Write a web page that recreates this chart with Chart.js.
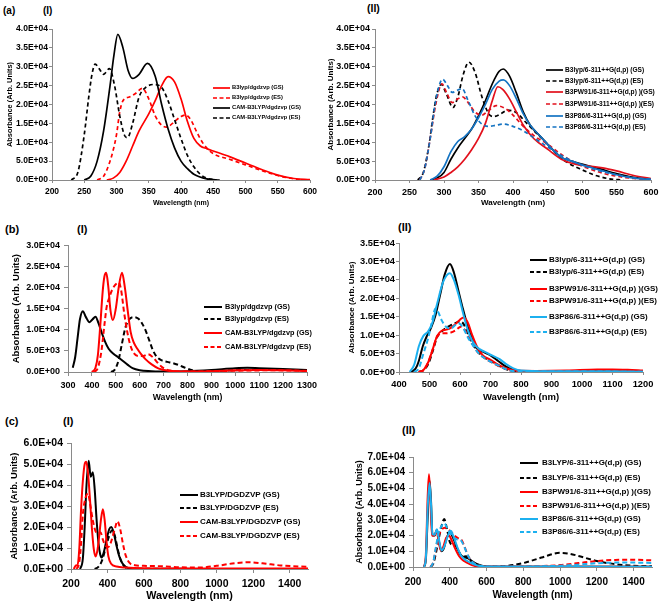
<!DOCTYPE html>
<html>
<head>
<meta charset="utf-8">
<script src="https://cdn.jsdelivr.net/npm/chart.js@4.4.0/dist/chart.umd.min.js"></script>
<style>
  body { margin: 0; width: 660px; height: 605px; position: relative; overflow: hidden; background: #fff;
         font-family: "Liberation Sans", Arial, sans-serif; font-weight: bold; color: #000; }
  canvas { position: absolute; }
  .t { position: absolute; white-space: nowrap; line-height: 1; transform: translateY(-50%); }
  svg { position: absolute; }
</style>
</head>
<body>
<script>
// ---- data: [wavelength (nm), absorbance] ----

// (a)(I)
const aI_b3lyp_gs = [[285,0],[295,500],[305,2000],[315,5000],[325,9000],[335,13000],[350,17500],[360,21000],[370,25000],[380,27400],[390,26000],[400,21500],[410,15500],[420,11000],[430,9000],[440,8300],[450,7700],[475,6200],[500,4500],[525,2800],[550,1300],[575,400],[600,100]];
const aI_b3lyp_es = [[270,0],[280,1000],[288,4000],[295,8000],[300,12000],[305,18000],[310,21000],[320,22000],[330,23000],[340,24300],[350,21500],[360,17000],[370,14500],[378,14000],[390,15500],[400,16800],[407,17200],[415,16000],[425,12500],[435,9500],[450,7000],[475,5500],[500,4000],[525,2500],[550,1200],[575,300],[590,0]];
const aI_cam_gs = [[250,0],[260,1000],[270,5000],[280,13000],[290,25000],[296,33000],[302,38600],[310,35000],[318,29000],[325,26900],[335,28000],[348,30900],[360,27500],[370,20000],[380,13500],[390,8500],[400,5000],[410,3000],[420,1500],[440,300],[460,0]];
const aI_cam_es = [[230,0],[240,2000],[250,12000],[257,22000],[262,28000],[267,30700],[273,29500],[280,28000],[289,29500],[297,25000],[305,17000],[312,12000],[317,11200],[325,15000],[335,22000],[345,24500],[358,25300],[370,24500],[380,21000],[390,16000],[400,11000],[410,6500],[420,3500],[430,1500],[440,500],[455,0]];
const aI_labels = ["B3lyp/dgdzvp (GS)", "B3lyp/dgdzvp (ES)", "CAM-B3LYP/dgdzvp (GS)", "CAM-B3LYP/dgdzvp (ES)"];

// (a)(II)
const aII_b3lyp_gs = [[280,0],[290,500],[300,2000],[310,5500],[320,8500],[330,11000],[340,13500],[350,17000],[360,21000],[370,25500],[380,28800],[386,29400],[395,27500],[405,23000],[415,18000],[425,14500],[440,11500],[455,8500],[470,6000],[485,5000],[500,4200],[525,3000],[550,1700],[575,700],[600,200]];
const aII_b3lyp_es = [[262,0],[270,2000],[278,9000],[285,18000],[290,23000],[296,25300],[303,23000],[313,19200],[320,22000],[328,28000],[336,31200],[345,28500],[355,22000],[365,17500],[372,16800],[382,17500],[392,18500],[405,17800],[420,15000],[435,12200],[450,9500],[465,6500],[480,4500],[500,2700],[520,1200],[540,300],[560,0]];
const aII_b3pw91_gs = [[285,0],[300,800],[310,2000],[320,3500],[330,5500],[340,8000],[350,11000],[360,15000],[370,21000],[378,24700],[385,24000],[395,21500],[405,18000],[415,14500],[430,11000],[450,8200],[470,5500],[490,4200],[510,3700],[530,3200],[550,2400],[575,1200],[600,400]];
const aII_b3pw91_es = [[265,0],[272,3000],[280,11000],[288,20000],[297,25500],[304,23000],[312,20500],[320,21500],[327,22000],[335,20500],[345,18000],[355,17200],[365,18500],[376,19700],[390,18800],[400,17200],[415,14200],[430,11800],[450,9500],[470,6800],[490,4500],[510,3000],[530,1800],[550,1000],[575,400],[600,100]];
const aII_b3p86_gs = [[280,0],[290,1000],[300,3500],[310,7500],[320,10200],[330,11500],[340,13500],[350,16500],[360,20000],[370,24000],[380,26200],[386,26500],[395,25000],[405,21500],[415,17500],[425,14500],[440,11500],[455,8500],[470,6000],[485,5000],[500,4000],[525,2700],[550,1400],[575,500],[600,100]];
const aII_b3p86_es = [[265,0],[272,3000],[280,11000],[288,21000],[298,26700],[305,25000],[312,23200],[320,23800],[326,24200],[335,21000],[345,17000],[355,14800],[365,14200],[375,14500],[386,14800],[400,14200],[415,13000],[430,11200],[450,8800],[470,6500],[490,4700],[510,3300],[530,2200],[550,1400],[575,600],[600,200]];
const aII_labels = ["B3lyp/6-311++G(d,p) (GS)", "B3lyp/6-311++G(d,p) (ES)", "B3PW91/6-311++G(d,p) )(GS)", "B3PW91/6-311++G(d,p) )(ES)", "B3P86/6-311++G(d,p) (GS)", "B3P86/6-311++G(d,p) (ES)"];

// (b)(I)
const bI_b3lyp_gs = [[320,1000],[330,3500],[340,8000],[350,12500],[362,14400],[375,13000],[390,11800],[403,12500],[415,13100],[428,11500],[440,9500],[455,7200],[470,5500],[490,4300],[510,3500],[530,2600],[550,1700],[570,900],[600,400],[650,200],[700,100],[800,200],[900,500],[1000,900],[1050,1000],[1100,900],[1200,700],[1300,500]];
const bI_b3lyp_es = [[480,0],[495,500],[510,2500],[525,6500],[540,10500],[555,12400],[575,13000],[595,12600],[610,11500],[625,9800],[640,7500],[655,5200],[670,3700],[690,2800],[715,2400],[740,2100],[765,1600],[790,1000],[820,400],[860,200],[950,300],[1050,500],[1150,500],[1300,400]];
const bI_cam_gs = [[400,0],[415,1000],[425,4000],[435,11000],[445,19000],[452,22500],[460,23500],[468,20500],[478,14500],[488,12300],[500,15000],[512,20000],[526,23500],[538,20000],[550,14500],[562,9500],[575,7000],[590,5500],[605,4300],[625,3000],[650,1800],[680,800],[720,300],[800,100],[900,200],[1000,400],[1100,500],[1200,400],[1300,200]];
const bI_cam_es = [[410,0],[425,1000],[440,5000],[452,11000],[462,15500],[472,17500],[485,19500],[500,20800],[512,21200],[522,19500],[535,14000],[548,9500],[560,6500],[575,4500],[595,3800],[615,3800],[635,4200],[655,3500],[675,2200],[695,1100],[720,400],[800,100],[1000,300],[1150,400],[1300,300]];
const bI_labels = ["B3lyp/dgdzvp (GS)", "B3lyp/dgdzvp (ES)", "CAM-B3LYP/dgdzvp (GS)", "CAM-B3LYP/dgdzvp (ES)"];

// (b)(II)
const bII_b3lyp_gs = [[440,0],[455,1000],[465,3000],[478,7000],[490,9500],[505,12000],[520,15500],[535,21000],[550,26500],[567,29300],[580,27000],[595,22000],[610,17000],[625,12500],[640,9000],[655,6500],[675,5500],[700,4500],[725,3000],[750,1500],[775,600],[800,300],[900,200],[1000,200],[1200,100]];
const bII_b3lyp_es = [[465,0],[480,500],[495,2000],[510,5500],[525,9500],[540,11000],[555,12000],[570,12700],[585,13300],[600,13700],[612,13000],[625,10500],[640,8000],[655,6000],[675,4200],[700,3000],[725,1800],[750,800],[780,200],[850,100],[1200,100]];
const bII_b3pw91_gs = [[465,0],[480,500],[495,2500],[510,6000],[525,9800],[540,11200],[555,11500],[570,12000],[585,13000],[600,14200],[612,14800],[625,13500],[640,10000],[655,7000],[675,4500],[700,3300],[725,2000],[750,1000],[780,400],[850,300],[950,400],[1050,700],[1100,700],[1150,600],[1200,400]];
const bII_b3pw91_es = [[465,0],[480,500],[495,2500],[510,6000],[525,9500],[540,10500],[555,10500],[570,10700],[585,11300],[603,12300],[615,11500],[630,9200],[645,7000],[660,5200],[680,3800],[700,2800],[725,1700],[750,800],[780,200],[1200,100]];
const bII_b3p86_gs = [[435,0],[450,2000],[465,7000],[480,9800],[495,11000],[510,13500],[525,18500],[545,24500],[567,26800],[580,25000],[595,21000],[610,16000],[625,11500],[640,8500],[655,6800],[680,5500],[705,4500],[730,3500],[750,2200],[775,1000],[800,400],[900,200],[1200,100]];
const bII_b3p86_es = [[450,0],[465,1000],[480,5000],[495,9000],[505,12500],[520,17200],[530,16000],[540,14000],[555,12200],[570,11800],[585,12800],[595,13200],[610,12000],[625,9500],[640,7500],[660,5200],[680,3800],[700,2800],[725,1800],[750,800],[780,200],[1200,100]];
const bII_labels = ["B3lyp/6-311++G(d,p) (GS)", "B3lyp/6-311++G(d,p) (ES)", "B3PW91/6-311++G(d,p) )(GS)", "B3PW91/6-311++G(d,p) )(ES)", "B3P86/6-311++G(d,p) (GS)", "B3P86/6-311++G(d,p) (ES)"];

// (c)(I)
const cI_b3lyp_gs = [[250,0],[265,5000],[275,20000],[285,40000],[297,51700],[308,44000],[320,46200],[330,38000],[340,24000],[350,13000],[360,7000],[368,5500],[380,8000],[395,14000],[410,19000],[421,20000],[435,17000],[450,11000],[465,6000],[480,3000],[500,1000],[530,200],[600,0],[1500,0]];
const cI_b3lyp_es = [[330,0],[350,1000],[370,4000],[390,10000],[410,16000],[425,18500],[440,16000],[455,10000],[470,5000],[490,1500],[520,200],[1500,0]];
const cI_cam_gs = [[215,0],[228,1800],[235,1500],[245,9000],[255,28000],[265,42000],[275,50000],[284,51200],[295,44000],[305,32000],[315,19000],[325,9500],[335,6000],[345,9000],[355,16000],[365,24000],[375,28500],[385,23000],[395,13000],[405,6000],[420,2500],[450,1200],[500,700],[600,300],[800,200],[1500,200]];
const cI_cam_es = [[230,0],[245,3000],[255,12000],[265,26000],[280,34000],[293,36000],[305,31000],[320,23000],[335,18000],[350,17000],[362,17500],[375,14000],[390,11000],[405,10500],[420,13000],[440,19000],[455,22800],[470,19000],[485,12000],[500,6500],[520,3000],[550,1800],[600,1500],[700,1300],[800,800],[900,700],[1000,1500],[1100,2800],[1175,3200],[1250,2700],[1350,1700],[1500,1000]];
const cI_labels = ["B3LYP/DGDZVP (GS)", "B3LYP/DGDZVP (ES)", "CAM-B3LYP/DGDZVP (GS)", "CAM-B3LYP/DGDZVP (ES)"];

// (c)(II)
const cII_b3lyp_gs = [[260,0],[270,5000],[280,32000],[290,55000],[298,42000],[306,20000],[318,20000],[330,23500],[342,16000],[355,10000],[368,12000],[382,18000],[400,22000],[420,18000],[440,12000],[460,7500],[480,6200],[500,5500],[525,3500],[550,1800],[580,600],[620,200],[1500,100]];
const cII_b3lyp_es = [[295,0],[310,2000],[325,9000],[340,18000],[355,26000],[370,30500],[385,24000],[400,16000],[415,14000],[430,13500],[450,9500],[470,6500],[490,6800],[510,4500],[530,2200],[560,800],[600,300],[700,600],[800,2500],[900,6000],[1000,9000],[1050,8500],[1100,7000],[1200,3800],[1300,1800],[1400,800],[1500,500]];
const cII_b3pw91_gs = [[260,0],[270,8000],[280,45000],[287,59000],[295,42000],[303,20000],[315,20000],[328,23000],[340,16000],[352,10500],[365,13000],[380,18500],[395,20000],[410,17000],[430,11500],[450,7000],[470,4500],[490,3000],[520,1200],[560,300],[1500,100]];
const cII_b3pw91_es = [[295,0],[310,3000],[325,12000],[340,20000],[355,23500],[372,25000],[390,24000],[410,22000],[430,19500],[450,18000],[465,17000],[480,13000],[500,7000],[520,3500],[550,1200],[600,400],[700,200],[800,300],[900,600],[1000,1200],[1100,2500],[1200,3800],[1300,4500],[1400,4600],[1500,4200]];
const cII_b3p86_gs = [[260,0],[270,6000],[280,38000],[290,53500],[298,40000],[306,21000],[318,20500],[330,24000],[342,17000],[355,10500],[370,13000],[390,20000],[405,23000],[420,19500],[440,13000],[460,7500],[480,5000],[500,3500],[525,2000],[550,1000],[590,300],[1500,100]];
const cII_b3p86_es = [[295,0],[310,3000],[325,13000],[340,22000],[355,26000],[370,28000],[385,25000],[400,22000],[420,19000],[440,17500],[460,17000],[480,12500],[500,7000],[520,3500],[550,1200],[600,300],[700,100],[800,200],[900,400],[1000,800],[1100,1500],[1200,2400],[1300,2800],[1400,2800],[1500,2600]];
const cII_labels = ["B3LYP/6-311++G(d,p) (GS)", "B3LYP/6-311++G(d,p) (ES)", "B3PW91/6-311++G(d,p) )(GS)", "B3PW91/6-311++G(d,p) )(ES)", "B3P86/6-311++G(d,p) (GS)", "B3P86/6-311++G(d,p) (ES)"];

// ---- styling ----
const FONT = '"Liberation Sans", Arial, sans-serif';
const AXIS = "#8a8a8a";
const BLACK = "#000000", RED = "#ff0000", RED2 = "#e2101c", BLUE = "#1473c2", SKY = "#1cb0ef";

// 0 -> 0.0E+00, 25000 -> 2.5E+04
const sci = (v) => {
  const [m, e] = v.toExponential(1).split("e");
  const n = Math.abs(+e);
  return m + "E" + (+e < 0 ? "-" : "+") + (n < 10 ? "0" : "") + n;
};

const addText = (str, x, y, size) => {
  const d = document.createElement("div");
  d.className = "t";
  d.textContent = str;
  d.style.left = x + "px";
  d.style.top = y + "px";
  d.style.fontSize = size + "px";
  document.body.appendChild(d);
};

const addLegend = (series, labels, lx1, lx2, tx, rows, size, lw) => {
  series.forEach((s, i) => {
    const w = lx2 - lx1;
    const svg = document.createElementNS("http://www.w3.org/2000/svg", "svg");
    svg.setAttribute("width", w);
    svg.setAttribute("height", 6);
    svg.style.left = lx1 + "px";
    svg.style.top = rows[i] - 3 + "px";
    const ln = document.createElementNS("http://www.w3.org/2000/svg", "line");
    ln.setAttribute("x1", 0); ln.setAttribute("x2", w);
    ln.setAttribute("y1", 3); ln.setAttribute("y2", 3);
    ln.setAttribute("stroke", s.color);
    ln.setAttribute("stroke-width", lw);
    if (s.dash) ln.setAttribute("stroke-dasharray", "4,2.5");
    svg.appendChild(ln);
    document.body.appendChild(svg);
    addText(labels[i], tx, rows[i], size);
  });
};

// g: plot rectangle (L,T,R,B) in page px, title positions, fonts, axis range
const panel = (g, series) => {
  const padT = 8, padR = 16;
  const left = Math.round(g.ytx - g.ytf * 0.6);
  const top = g.T - padT;
  const bottom = Math.round(g.xty + g.xtf * 0.6);
  const w = g.R + padR - left, h = bottom - top;
  const yW = g.L - left, xH = bottom - g.B;

  const cv = document.createElement("canvas");
  cv.width = w; cv.height = h;
  cv.style.left = left + "px"; cv.style.top = top + "px";
  document.body.appendChild(cv);

  const tickFont = { family: FONT, weight: "bold", size: g.tf };
  new Chart(cv, {
    type: "line",
    data: {
      datasets: series.map((s, i) => ({
        data: s.pts.map((p) => ({ x: p[0], y: p[1] })),
        borderColor: s.color,
        borderWidth: g.lw,
        borderDash: s.dash ? g.dash : [],
        pointRadius: 0,
        fill: false,
        cubicInterpolationMode: "monotone",
        order: series.length - i,
      })),
    },
    options: {
      responsive: false,
      animation: false,
      events: [],
      layout: { padding: { top: padT, right: padR, left: 0, bottom: 0 } },
      plugins: { legend: { display: false }, tooltip: { enabled: false } },
      scales: {
        x: {
          type: "linear", min: g.xmin, max: g.xmax,
          afterFit: (s) => { s.height = xH; },
          ticks: { stepSize: g.xstep, autoSkip: false, maxRotation: 0, includeBounds: false, padding: g.xtp, color: "#000", font: tickFont,
                   callback: (v) => String(v) },
          grid: { drawOnChartArea: false, tickLength: g.tl, color: AXIS },
          border: { color: AXIS },
          title: { display: true, text: "Wavelength (nm)", color: "#000", padding: 0, font: { family: FONT, weight: "bold", size: g.xtf } },
        },
        y: {
          min: 0, max: g.ymax,
          afterFit: (s) => { s.width = yW; },
          ticks: { stepSize: g.ystep, autoSkip: false, padding: g.ytp, color: "#000", font: tickFont, callback: sci },
          grid: { drawOnChartArea: false, tickLength: g.tl, color: AXIS },
          border: { color: AXIS },
          title: { display: true, text: "Absorbance (Arb. Units)", color: "#000", padding: 0, font: { family: FONT, weight: "bold", size: g.ytf } },
        },
      },
    },
  });
};

// ---- (a) ----
const aI = [
  { pts: aI_b3lyp_gs, color: RED },
  { pts: aI_b3lyp_es, color: RED, dash: true },
  { pts: aI_cam_gs, color: BLACK },
  { pts: aI_cam_es, color: BLACK, dash: true },
];
panel({ L: 52, T: 29, R: 310, B: 180, ytx: 10, xty: 203, tf: 8.5, ytf: 7.4, xtf: 7, tl: 3, ytp: 1, xtp: 4, lw: 1.7, dash: [4, 3],
        xmin: 200, xmax: 600, xstep: 50, ymax: 40000, ystep: 5000 }, aI);
addLegend(aI, aI_labels, 213, 230, 232, [88, 98, 108, 118], 5.8, 1.7);

const aII = [
  { pts: aII_b3lyp_gs, color: BLACK },
  { pts: aII_b3lyp_es, color: BLACK, dash: true },
  { pts: aII_b3pw91_gs, color: RED2 },
  { pts: aII_b3pw91_es, color: RED2, dash: true },
  { pts: aII_b3p86_gs, color: BLUE },
  { pts: aII_b3p86_es, color: BLUE, dash: true },
];
panel({ L: 375, T: 29, R: 651, B: 180, ytx: 331, xty: 203, tf: 9, ytf: 8, xtf: 8, tl: 3, ytp: 2, xtp: 4, lw: 1.7, dash: [4, 3],
        xmin: 200, xmax: 600, xstep: 50, ymax: 40000, ystep: 5000 }, aII);
addLegend(aII, aII_labels, 546, 563, 565, [70, 81, 92, 104, 116, 127], 6.6, 1.7);

// ---- (b) ----
const bI = [
  { pts: bI_b3lyp_gs, color: BLACK },
  { pts: bI_b3lyp_es, color: BLACK, dash: true },
  { pts: bI_cam_gs, color: RED },
  { pts: bI_cam_es, color: RED, dash: true },
];
panel({ L: 68, T: 244, R: 307, B: 372, ytx: 17, xty: 398, tf: 9, ytf: 9.5, xtf: 8.7, tl: 4, ytp: 4, xtp: 4, lw: 2, dash: [5, 3],
        xmin: 300, xmax: 1300, xstep: 100, ymax: 30000, ystep: 5000 }, bI);
addLegend(bI, bI_labels, 204, 222, 225, [307, 319, 333, 347], 7.3, 2);

const bII = [
  { pts: bII_b3lyp_gs, color: BLACK },
  { pts: bII_b3lyp_es, color: BLACK, dash: true },
  { pts: bII_b3pw91_gs, color: RED },
  { pts: bII_b3pw91_es, color: RED, dash: true },
  { pts: bII_b3p86_gs, color: SKY },
  { pts: bII_b3p86_es, color: SKY, dash: true },
];
panel({ L: 399, T: 243, R: 643, B: 372, ytx: 352, xty: 397, tf: 9.3, ytf: 8, xtf: 9.5, tl: 3, ytp: 1, xtp: 4, lw: 2, dash: [5, 3],
        xmin: 400, xmax: 1200, xstep: 100, ymax: 35000, ystep: 5000 }, bII);
addLegend(bII, bII_labels, 530, 547, 549, [260, 272, 289, 301, 317, 332], 8, 2);

// ---- (c) ----
const cI = [
  { pts: cI_b3lyp_gs, color: BLACK },
  { pts: cI_b3lyp_es, color: BLACK, dash: true },
  { pts: cI_cam_gs, color: RED },
  { pts: cI_cam_es, color: RED, dash: true },
];
panel({ L: 71, T: 441, R: 308, B: 569, ytx: 15, xty: 597, tf: 10.5, ytf: 9.3, xtf: 10.8, tl: 4, ytp: 4, xtp: 5, lw: 2, dash: [5, 3],
        xmin: 200, xmax: 1500, xstep: 200, ymax: 60000, ystep: 10000 }, cI);
addLegend(cI, cI_labels, 180, 198, 200, [495, 508, 522, 536], 8, 2);

const cII = [
  { pts: cII_b3lyp_gs, color: BLACK },
  { pts: cII_b3lyp_es, color: BLACK, dash: true },
  { pts: cII_b3pw91_gs, color: RED },
  { pts: cII_b3pw91_es, color: RED, dash: true },
  { pts: cII_b3p86_gs, color: SKY },
  { pts: cII_b3p86_es, color: SKY, dash: true },
];
panel({ L: 413, T: 455, R: 652, B: 567, ytx: 359, xty: 595, tf: 10, ytf: 9, xtf: 10, tl: 4, ytp: 4, xtp: 5, lw: 2, dash: [5, 3],
        xmin: 200, xmax: 1500, xstep: 200, ymax: 70000, ystep: 10000 }, cII);
addLegend(cII, cII_labels, 520, 538, 542, [463, 478, 492, 506, 519, 532], 8, 2);

// panel tags
addText("(a)", 3, 11, 10);
addText("(I)", 43, 11, 10);
addText("(II)", 367, 8, 10.5);
addText("(b)", 5, 229, 11);
addText("(I)", 77, 229, 11);
addText("(II)", 398, 227, 11);
addText("(c)", 5, 421, 11);
addText("(I)", 63, 421, 11);
addText("(II)", 402, 430, 11);
</script>
</body>
</html>
